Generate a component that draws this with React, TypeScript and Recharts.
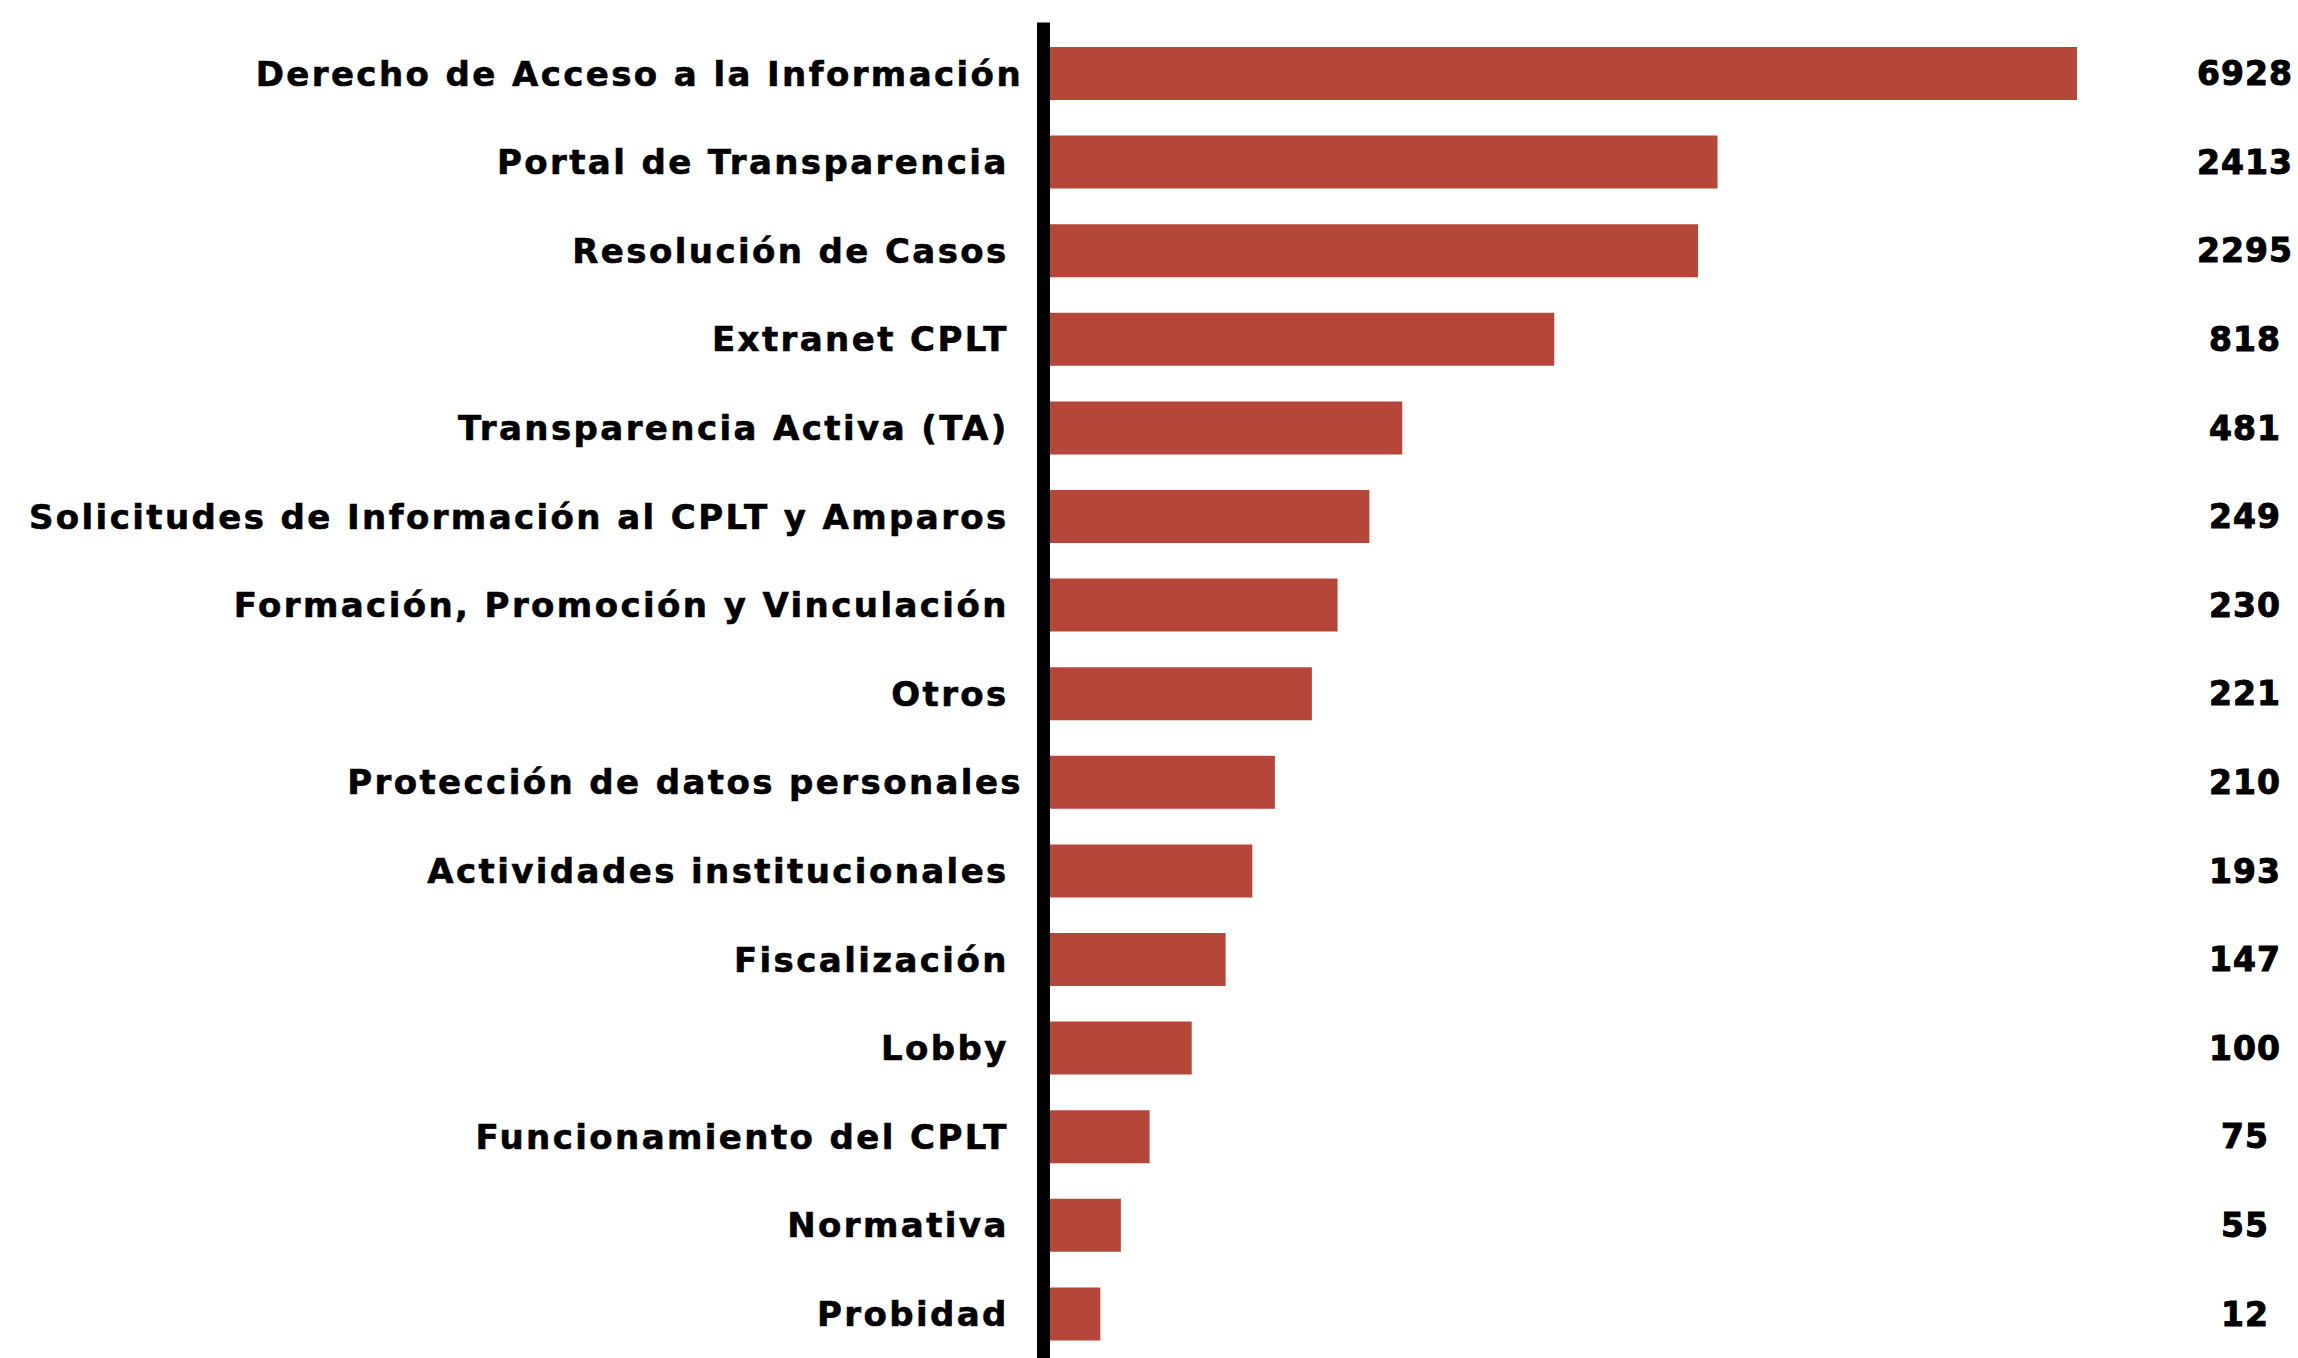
import { Bar, BarChart, Cell, XAxis, YAxis } from "recharts";

// categories, top to bottom
const categories = [
  "Derecho de Acceso a la Información",
  "Portal de Transparencia ",
  "Resolución de Casos ",
  "Extranet CPLT ",
  "Transparencia Activa (TA) ",
  "Solicitudes de Información al CPLT y Amparos ",
  "Formación, Promoción y Vinculación ",
  "Otros ",
  "Protección de datos personales",
  "Actividades institucionales ",
  "Fiscalización ",
  "Lobby ",
  "Funcionamiento del CPLT ",
  "Normativa ",
  "Probidad ",
];

// counts printed in the right column
const counts = [6928, 2413, 2295, 818, 481, 249, 230, 221, 210, 193, 147, 100, 75, 55, 12];

// bar length as drawn in the source, % of the longest bar (the source does not draw bars to scale)
const barPercent = [100, 65.0, 63.1, 49.1, 34.3, 31.1, 28.0, 25.5, 21.9, 19.7, 17.1, 13.8, 9.7, 6.9, 4.9];

const data = categories.map((name, i) => ({
  name,
  count: counts[i],
  bar: barPercent[i],
}));

const BAR_COLOR = "#b44739";
const FONT = "'DejaVu Sans', sans-serif";

function CategoryTick(props: any) {
  const { y, payload, index } = props;
  const label = String(payload.value).replace(/ $/, "\u00a0");
  return (
    <g>
      <text
        x={1023}
        y={y}
        dy="0.36em"
        textAnchor="end"
        fontFamily={FONT}
        fontWeight={700}
        fontSize={34}
        letterSpacing={2.4}
        fill="#000"
        stroke="#000"
        strokeWidth={0.6}
      >
        {label}
      </text>
      <text
        x={2245}
        y={y}
        dy="0.36em"
        textAnchor="middle"
        fontFamily={FONT}
        fontWeight={700}
        fontSize={33}
        letterSpacing={1}
        fill="#000"
        stroke="#000"
        strokeWidth={1}
      >
        {counts[index]}
      </text>
    </g>
  );
}

export default function App() {
  return (
    <div style={{ position: "absolute", left: 0, top: 0, width: 2298, height: 1358, background: "#fff" }}>
      <BarChart
        width={2298}
        height={1358}
        data={data}
        layout="vertical"
        margin={{ top: 29, right: 221, bottom: 0, left: 0 }}
        barSize={53}
      >
        <XAxis type="number" dataKey="bar" domain={[0, 100]} hide />
        <YAxis
          type="category"
          dataKey="name"
          width={1050}
          tickLine={false}
          interval={0}
          axisLine={{ stroke: "#000", strokeWidth: 13, strokeLinecap: "square", transform: "translate(-6.5,0)" }}
          tick={<CategoryTick />}
        />
        <Bar dataKey="bar" fill={BAR_COLOR} isAnimationActive={false}>
          {data.map((d) => (
            <Cell key={d.name} fill={BAR_COLOR} />
          ))}
        </Bar>
      </BarChart>
    </div>
  );
}
